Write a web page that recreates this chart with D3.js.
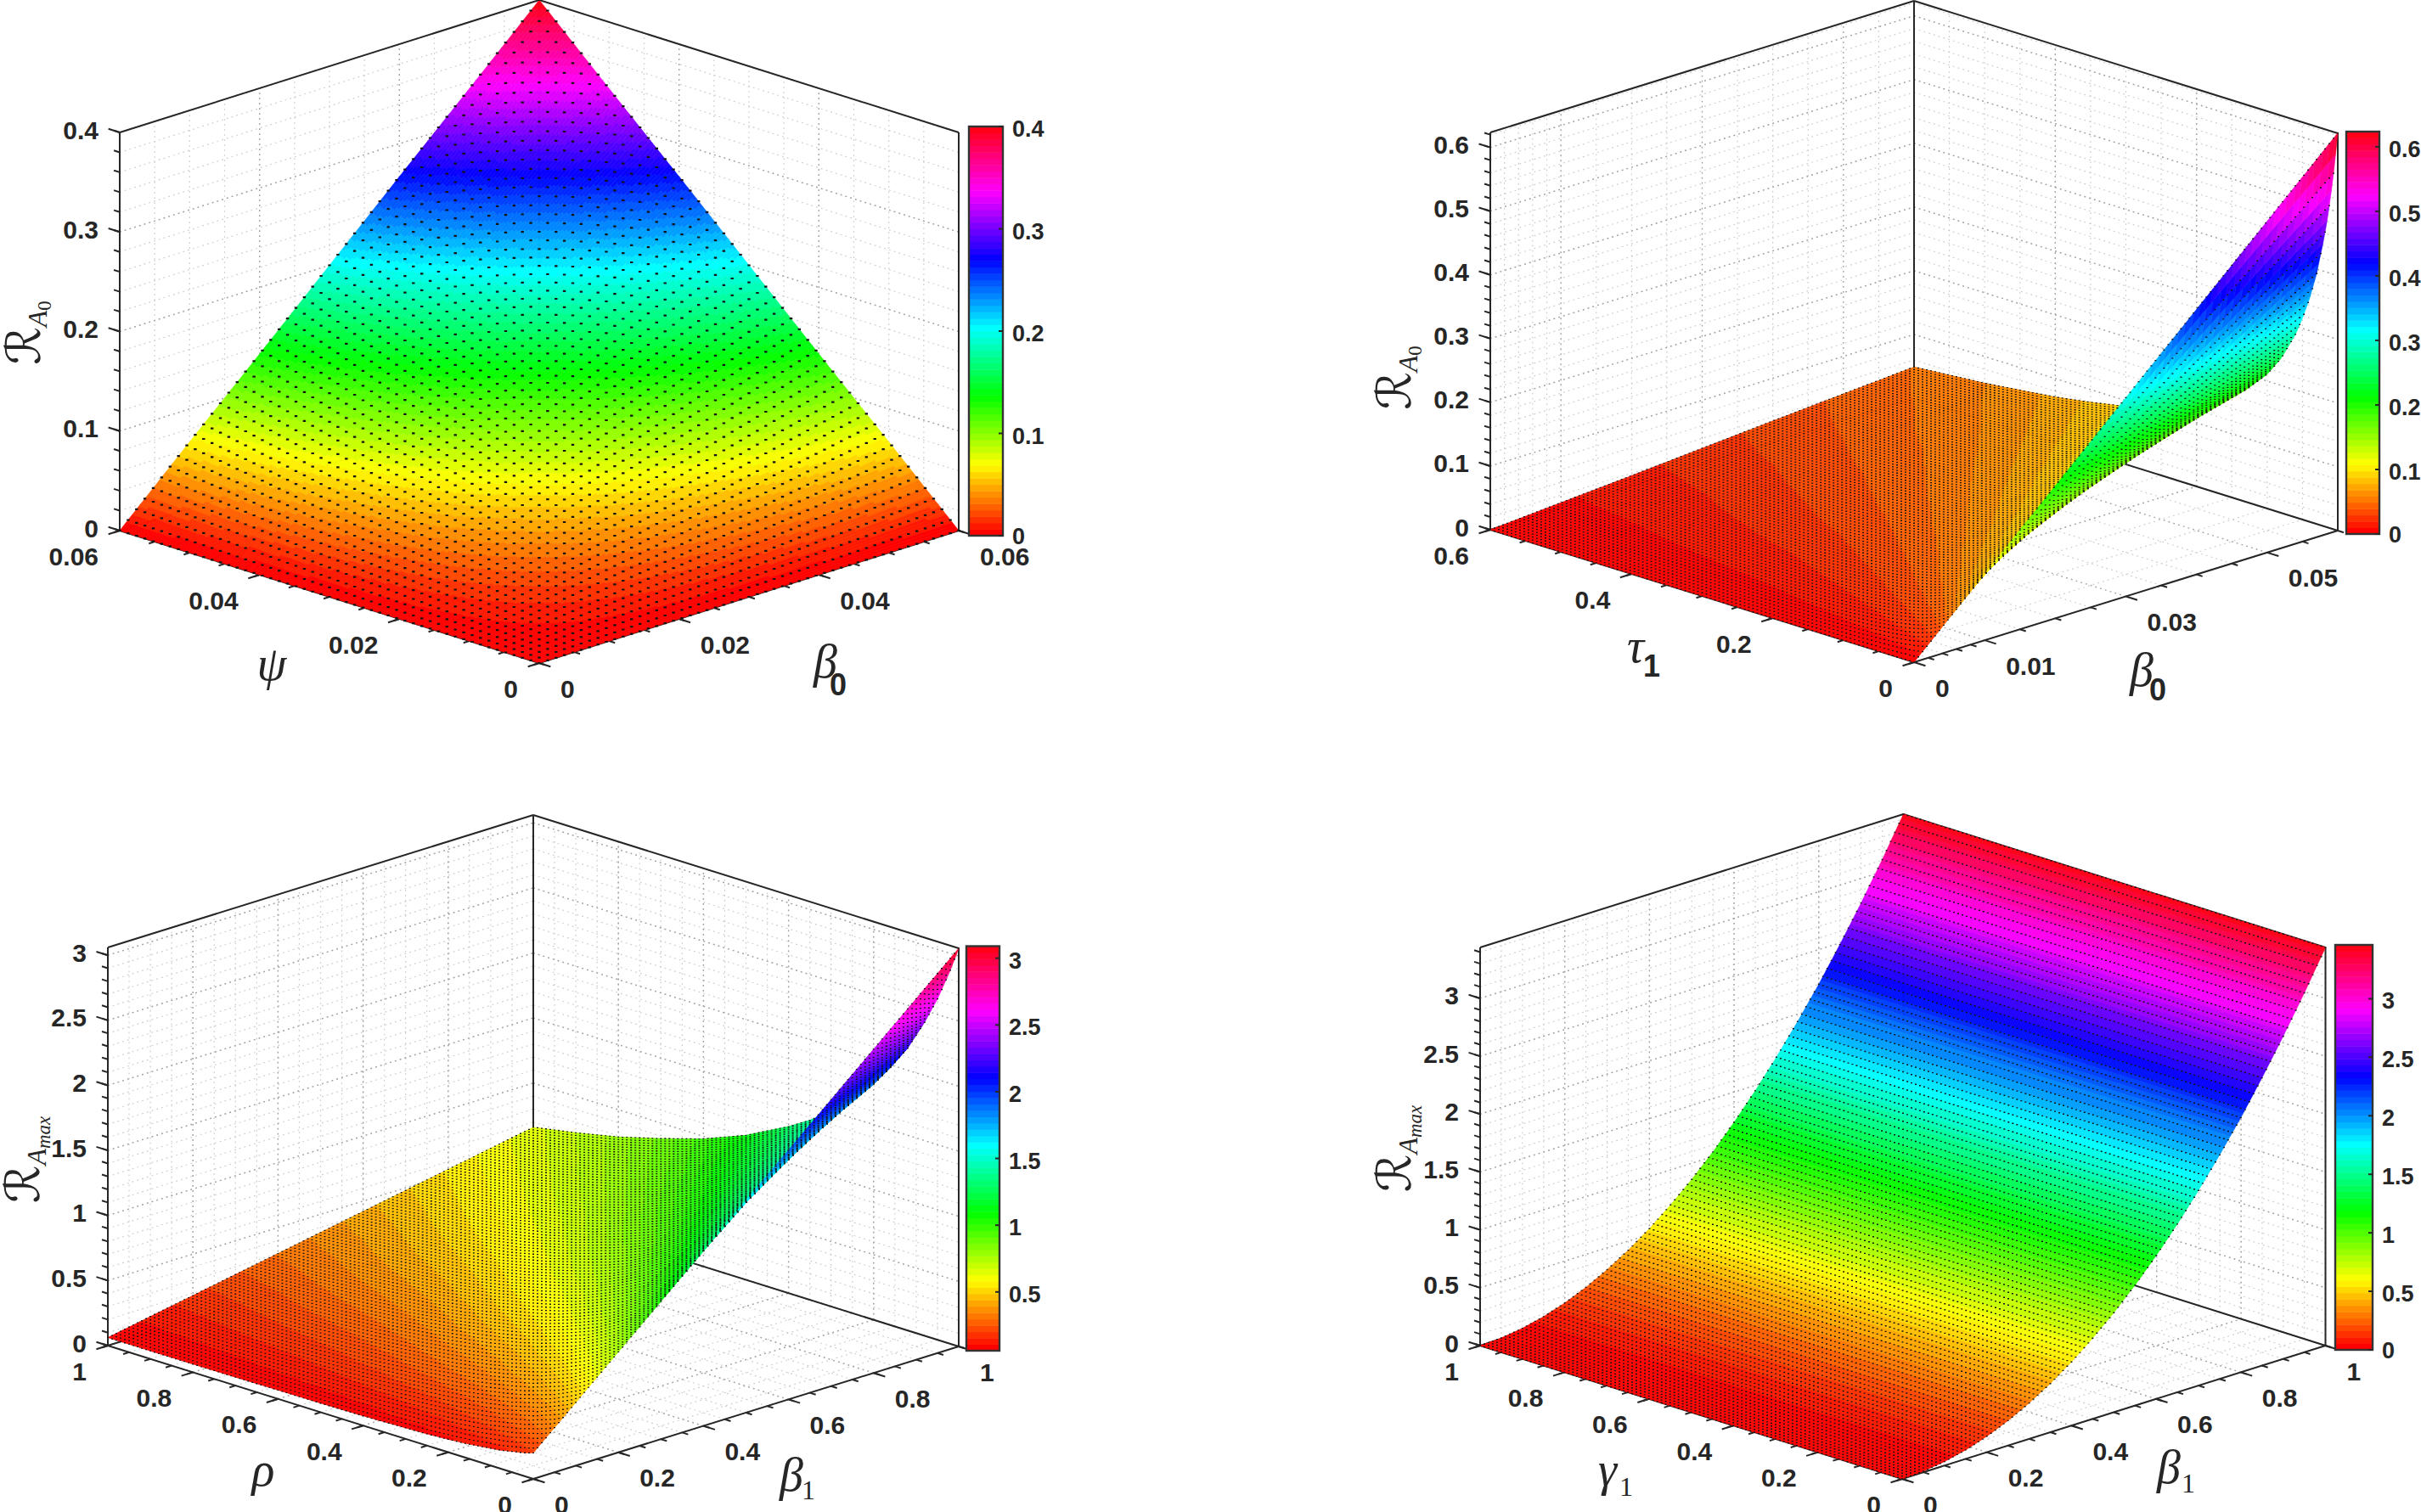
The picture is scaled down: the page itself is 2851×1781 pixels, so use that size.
<!DOCTYPE html>
<html><head><meta charset="utf-8">
<style>html,body{margin:0;padding:0;background:#fff}svg{display:block}</style>
<script src="https://cdn.jsdelivr.net/npm/d3@7/dist/d3.min.js"></script>
</head><body><svg id="c" width="2851" height="1781" xmlns="http://www.w3.org/2000/svg"></svg>
<script>
// ---------- values ----------
// Panel 1: R_A0 over psi (rows) and beta0 (columns)
const p1Psi = [0,0.01,0.02,0.03,0.04,0.05,0.06];
const p1Beta = [0,0.01,0.02,0.03,0.04,0.05,0.06];
const p1Z = [
 [0,0,0,0,0,0,0],
 [0,0.011,0.022,0.033,0.044,0.056,0.067],
 [0,0.022,0.044,0.067,0.089,0.111,0.133],
 [0,0.033,0.067,0.1,0.133,0.167,0.2],
 [0,0.044,0.089,0.133,0.178,0.222,0.267],
 [0,0.056,0.111,0.167,0.222,0.278,0.333],
 [0,0.067,0.133,0.2,0.267,0.333,0.4]];
const p1ATicks=[0,0.02,0.04,0.06], p1ALabels=["0","0.02","0.04","0.06"];
const p1BTicks=[0,0.02,0.04,0.06], p1BLabels=["0","0.02","0.04","0.06"];
const p1ZTicks=[0,0.1,0.2,0.3,0.4], p1ZLabels=["0","0.1","0.2","0.3","0.4"];
const p1CTicks=[0,0.1,0.2,0.3,0.4], p1CLabels=["0","0.1","0.2","0.3","0.4"];

// Panel 2: R_A0 over tau1 (rows) and beta0 (columns)
const p2Tau = [0,0.005,0.01,0.015,0.02,0.03,0.04,0.05,0.06,0.08,0.1,0.13,0.16,0.2,0.25,0.3,0.35,0.4,0.5,0.6];
const p2Beta = [0,0.02,0.04,0.06];
const p2Z = [
 [0,0.208,0.416,0.624],[0,0.189,0.379,0.568],[0,0.174,0.348,0.522],[0,0.161,0.321,0.482],
 [0,0.150,0.299,0.449],[0,0.131,0.262,0.393],[0,0.117,0.233,0.350],[0,0.105,0.210,0.316],
 [0,0.096,0.191,0.287],[0,0.081,0.162,0.243],[0,0.070,0.141,0.211],[0,0.059,0.117,0.176],
 [0,0.050,0.101,0.151],[0,0.042,0.085,0.127],[0,0.035,0.071,0.106],[0,0.030,0.061,0.091],
 [0,0.027,0.053,0.080],[0,0.024,0.047,0.071],[0,0.019,0.039,0.058],[0,0.016,0.033,0.049]];
const p2ATicks=[0,0.2,0.4,0.6], p2ALabels=["0","0.2","0.4","0.6"];
const p2BTicks=[0,0.01,0.03,0.05], p2BLabels=["0","0.01","0.03","0.05"];
const p2BMinor=[0.002,0.004,0.006,0.008,0.015,0.02,0.025,0.035,0.04,0.045,0.055,0.06];
const p2ZTicks=[0,0.1,0.2,0.3,0.4,0.5,0.6], p2ZLabels=["0","0.1","0.2","0.3","0.4","0.5","0.6"];
const p2CTicks=[0,0.1,0.2,0.3,0.4,0.5,0.6], p2CLabels=["0","0.1","0.2","0.3","0.4","0.5","0.6"];

// Panel 3: R_Amax over rho (rows) and beta1 (columns)
const p3Rho = [0,0.02,0.05,0.08,0.12,0.16,0.2,0.25,0.3,0.35,0.4,0.5,0.6,0.7,0.8,0.9,1];
const p3Beta = [0,0.5,1];
const p3Z = [
 [0.2,1.63,3.06],[0.18,1.52,2.87],[0.16,1.39,2.62],[0.14,1.27,2.41],[0.125,1.15,2.17],
 [0.11,1.04,1.98],[0.10,0.96,1.81],[0.09,0.87,1.64],[0.085,0.79,1.50],[0.08,0.73,1.38],
 [0.075,0.68,1.28],[0.07,0.59,1.11],[0.068,0.52,0.98],[0.065,0.47,0.88],[0.063,0.43,0.79],
 [0.062,0.39,0.72],[0.062,0.36,0.66]];
const unitTicks=[0,0.2,0.4,0.6,0.8,1], unitLabels=["0","0.2","0.4","0.6","0.8","1"];
const p3ZTicks=[0,0.5,1,1.5,2,2.5,3], p3ZLabels=["0","0.5","1","1.5","2","2.5","3"];
const p3CTicks=[0.5,1,1.5,2,2.5,3], p3CLabels=["0.5","1","1.5","2","2.5","3"];

// Panel 4: R_Amax over gamma1 (rows) and beta1 (columns)
const p4Gamma = [0,0.5,1];
const p4Beta = [0,0.05,0.1,0.15,0.2,0.25,0.3,0.35,0.4,0.45,0.5,0.55,0.6,0.65,0.7,0.75,0.8,0.85,0.9,0.95,1];
const p4Row = [0,0.0086,0.0344,0.0774,0.1376,0.215,0.31,0.421,0.55,0.697,0.86,1.04,1.238,1.453,1.686,1.935,2.2,2.486,2.787,3.105,3.44];
const p4Z = [p4Row,p4Row,p4Row];
const p4ZTicks=[0,0.5,1,1.5,2,2.5,3], p4ZLabels=["0","0.5","1","1.5","2","2.5","3"];
const p4CTicks=[0,0.5,1,1.5,2,2.5,3], p4CLabels=["0","0.5","1","1.5","2","2.5","3"];

// ---------- layout ----------
const panels=[
 {F:[635,781],L:[141,625],R:[1129,625],h:469,aMax:0.06,bMax:0.06,zMax:0.4,clim:[0,0.4],cb:[1141,149,1181,631],mesh:50,dot:[3.4,2.2],
  aVals:p1Psi,bVals:p1Beta,z:p1Z,aT:p1ATicks,aL:p1ALabels,bT:p1BTicks,bL:p1BLabels,zT:p1ZTicks,zL:p1ZLabels,cT:p1CTicks,cL:p1CLabels,
  aMinor:d3.range(0,0.0601,0.005),bMinor:d3.range(0,0.0601,0.005),zMinor:d3.range(0,0.4001,0.02),
  zlab:[47,392,"0"],aName:["ψ",320,801,""],bName:["β",972,798,"0",987,819,"bold"]},
 {F:[2254,780],L:[1755,624],R:[2753,625],h:468,aMax:0.6,bMax:0.06,zMax:0.6235,clim:[0,0.6235],cb:[2763,155,2802,629],mesh:100,dot:[2,1.3],
  aVals:p2Tau,bVals:p2Beta,z:p2Z,aT:p2ATicks,aL:p2ALabels,bT:p2BTicks,bL:p2BLabels,zT:p2ZTicks,zL:p2ZLabels,cT:p2CTicks,cL:p2CLabels,
  aMinor:d3.range(0,0.601,0.05),bMinor:p2BMinor,zMinor:d3.range(0,0.6201,0.02),
  zlab:[1661,445,"0"],aName:["τ",1926,780,"1",1945,797,"bold"],bName:["β",2522,808,"0",2541,825,"bold"]},
 {F:[628,1742],L:[127,1585],R:[1129,1586],h:469,aMax:1,bMax:1,zMax:3.06,clim:[0.06,3.09],cb:[1138,1114.5,1177,1591],mesh:100,dot:[2,1.3],
  aVals:p3Rho,bVals:p3Beta,z:p3Z,aT:unitTicks,aL:unitLabels,bT:unitTicks,bL:unitLabels,zT:p3ZTicks,zL:p3ZLabels,cT:p3CTicks,cL:p3CLabels,
  aMinor:d3.range(0,1.001,0.05),bMinor:d3.range(0,1.001,0.05),zMinor:d3.range(0,3.001,0.1),
  zlab:[46,1366,"max"],aName:["ρ",310,1750,""],bName:["β",932,1756,"1",952,1766,"serif"]},
 {F:[2240,1742],L:[1743,1585],R:[2738.5,1585],h:469,aMax:1,bMax:1,zMax:3.44,clim:[0,3.46],cb:[2750,1113,2794,1590],mesh:100,dot:[2,1.4],
  aVals:p4Gamma,bVals:p4Beta,z:p4Z,aT:unitTicks,aL:unitLabels,bT:unitTicks,bL:unitLabels,zT:p4ZTicks,zL:p4ZLabels,cT:p4CTicks,cL:p4CLabels,
  aMinor:d3.range(0,1.001,0.05),bMinor:d3.range(0,1.001,0.05),zMinor:d3.range(0,3.401,0.1),
  zlab:[1661,1353,"max"],aName:["γ",1893,1750,"1",1915,1762,"serif"],bName:["β",2554,1747,"1",2577,1758,"serif"]}
];

// MATLAB hsv(64) colormap
const hsv64=d3.range(64).map(i=>d3.hsl(i/64*360,1,0.5).formatHex());
const INK="#262626", SANS="'Liberation Sans',Arial,sans-serif", SERIF="'Liberation Serif',serif";
const svg=d3.select("#c");
const NF=200;

function drawPanel(p){
  const g=svg.append("g");
  const aS=d3.scaleLinear().domain([0,p.aMax]).range([0,1]);
  const bS=d3.scaleLinear().domain([0,p.bMax]).range([0,1]);
  const zS=d3.scaleLinear().domain([0,p.zMax]).range([0,p.h]);
  const proj=(a,b,z)=>{const u=aS(a),v=bS(b);
    return [p.F[0]+(p.R[0]-p.F[0])*v+(p.L[0]-p.F[0])*u, p.F[1]+(p.R[1]-p.F[1])*v+(p.L[1]-p.F[1])*u-zS(z)];};
  const line=(par,A,B,col,w,dash)=>{const l=par.append("line").attr("x1",A[0]).attr("y1",A[1]).attr("x2",B[0]).attr("y2",B[1])
    .attr("stroke",col).attr("stroke-width",w); if(dash) l.attr("stroke-dasharray",dash); return l;};

  // grid on walls and floor
  const grid=g.append("g");
  const gridLines=(vals,major)=>{
    const col=major?"#a2a2a2":"#cdcdcd", w=major?1.4:1.2, dash="1.8 4.2";
    vals.b.forEach(b=>{line(grid,proj(p.aMax,b,0),proj(p.aMax,b,p.zMax),col,w,dash);line(grid,proj(0,b,0),proj(p.aMax,b,0),col,w,dash);});
    vals.a.forEach(a=>{line(grid,proj(a,p.bMax,0),proj(a,p.bMax,p.zMax),col,w,dash);line(grid,proj(a,0,0),proj(a,p.bMax,0),col,w,dash);});
    vals.z.forEach(z=>{line(grid,proj(p.aMax,0,z),proj(p.aMax,p.bMax,z),col,w,dash);line(grid,proj(p.aMax,p.bMax,z),proj(0,p.bMax,z),col,w,dash);});
  };
  gridLines({a:p.aMinor,b:p.bMinor,z:p.zMinor},false);
  gridLines({a:p.aT,b:p.bT,z:p.zT},true);

  // box
  const box=g.append("g");
  const t=p.zMax;
  [[proj(p.aMax,0,t),proj(p.aMax,p.bMax,t)],[proj(p.aMax,p.bMax,t),proj(0,p.bMax,t)],
   [proj(p.aMax,0,0),proj(p.aMax,0,t)],[proj(p.aMax,p.bMax,0),proj(p.aMax,p.bMax,t)],[proj(0,p.bMax,0),proj(0,p.bMax,t)],
   [proj(p.aMax,0,0),proj(p.aMax,p.bMax,0)],[proj(p.aMax,p.bMax,0),proj(0,p.bMax,0)],
   [proj(p.aMax,0,0),proj(0,0,0)],[proj(0,0,0),proj(0,p.bMax,0)]]
   .forEach(s=>line(box,s[0],s[1],INK,2));

  // ticks
  const dirA=[(p.L[0]-p.F[0]),(p.L[1]-p.F[1])], dirB=[(p.R[0]-p.F[0]),(p.R[1]-p.F[1])];
  const tick=(P,dir,f)=>line(box,P,[P[0]+dir[0]*f,P[1]+dir[1]*f],INK,2);
  const MAJ=0.027,MIN=0.014;
  p.aMinor.forEach(a=>tick(proj(a,0,0),dirB,-MIN)); p.aT.forEach(a=>tick(proj(a,0,0),dirB,-MAJ));
  p.bMinor.forEach(b=>tick(proj(0,b,0),dirA,-MIN)); p.bT.forEach(b=>tick(proj(0,b,0),dirA,-MAJ));
  p.zMinor.forEach(z=>tick(proj(p.aMax,0,z),dirA,MIN)); p.zT.forEach(z=>tick(proj(p.aMax,0,z),dirA,MAJ));

  // surface, painted back to front
  const aIdx=d3.scaleLinear().domain(p.aVals).range(d3.range(p.aVals.length)).clamp(true);
  const bIdx=d3.scaleLinear().domain(p.bVals).range(d3.range(p.bVals.length)).clamp(true);
  const height=(a,b)=>{
    const fa=aIdx(a),fb=bIdx(b),ia=Math.min(Math.floor(fa),p.aVals.length-2),ib=Math.min(Math.floor(fb),p.bVals.length-2);
    const ta=fa-ia,tb=fb-ib,Z=p.z;
    return (1-ta)*((1-tb)*Z[ia][ib]+tb*Z[ia][ib+1])+ta*((1-tb)*Z[ia+1][ib]+tb*Z[ia+1][ib+1]);};
  const col=d3.scaleQuantize().domain(p.clim).range(hsv64);
  const MESH=p.mesh, SUB=NF/MESH, surf=g.append("g").attr("stroke-linejoin","round");
  const fmt=n=>n.toFixed(1);
  const poly=pts=>"M"+pts.map(q=>fmt(q[0])+" "+fmt(q[1])).join("L")+"Z";
  const aAt=k=>p.aMax*k/NF, bAt=j=>p.bMax*j/NF;
  const [dw,dh]=p.dot;
  const drawDots=i=>{
    const a=p.aMax*i/MESH; let d="";
    for(let j=0;j<=MESH;j++){
      const b=p.bMax*j/MESH, q=proj(a,b,height(a,b));
      d+=`M${fmt(q[0]-dw/2)} ${fmt(q[1]-dh/2)}h${dw}v${dh}h-${dw}Z`; }
    surf.append("path").attr("d",d).attr("fill","#141414");
  };
  for(let k=NF-1;k>=0;k--){
    const a1=aAt(k+1),a0=aAt(k);
    let j=NF;
    while(j>0){
      const c=col((height(a1,bAt(j))+height(a0,bAt(j))+height(a1,bAt(j-1))+height(a0,bAt(j-1)))/4);
      let e=j-1;
      while(e>0){const c2=col((height(a1,bAt(e))+height(a0,bAt(e))+height(a1,bAt(e-1))+height(a0,bAt(e-1)))/4); if(c2!==c)break; e--;}
      const top=[],bot=[];
      for(let m=j;m>=e;m--){const b=bAt(m);top.push(proj(a1,b,height(a1,b)));bot.push(proj(a0,b,height(a0,b)));}
      surf.append("path").attr("d",poly(top.concat(bot.reverse()))).attr("fill",c).attr("stroke",c).attr("stroke-width",0.6);
      j=e;
    }
    const i=(k+3)/SUB; if(Number.isInteger(i)&&i<=MESH) drawDots(i);
  }
  d3.range(0,MESH+1).filter(i=>i*SUB-3<0).reverse().forEach(drawDots);

  // tick labels
  const label=(x,y,s,anchor,size)=>g.append("text").attr("x",x).attr("y",y).attr("text-anchor",anchor)
    .attr("dominant-baseline","central").attr("font-family",SANS).attr("font-weight","bold").attr("font-size",size||30).attr("fill",INK).text(s);
  p.aT.forEach((a,i)=>{const q=proj(a,0,0);label(q[0]-25,q[1]+30,p.aL[i],"end");});
  p.bT.forEach((b,i)=>{const q=proj(0,b,0);label(q[0]+25,q[1]+30,p.bL[i],"start");});
  p.zT.forEach((z,i)=>{const q=proj(p.aMax,0,z);label(q[0]-25,q[1]-3,p.zL[i],"end");});

  // axis names
  const name=(n)=>{
    g.append("text").attr("x",n[1]).attr("y",n[2]).attr("text-anchor","middle").attr("font-family",SERIF).attr("font-style","italic")
      .attr("font-size",56).attr("fill",INK).text(n[0]);
    if(n[3]) g.append("text").attr("x",n[4]).attr("y",n[5]).attr("text-anchor","middle")
      .attr("font-family",n[6]==="bold"?SANS:SERIF).attr("font-weight",n[6]==="bold"?"bold":"normal")
      .attr("font-size",n[6]==="bold"?36:32).attr("fill",INK).text(n[3]);
  };
  name(p.aName);name(p.bName);

  // z label
  const zl=g.append("text").attr("transform",`translate(${p.zlab[0]},${p.zlab[1]}) rotate(-90)`).attr("text-anchor","middle").attr("fill",INK);
  zl.append("tspan").attr("font-family","'DejaVu Serif','DejaVu Sans',serif").attr("font-size",56).text("ℛ");
  zl.append("tspan").attr("font-family",SERIF).attr("font-style","italic").attr("font-size",32).attr("dy",8).text("A");
  zl.append("tspan").attr("font-family",SERIF).attr("font-style",p.zlab[2]==="0"?"normal":"italic").attr("font-size",23).attr("dy",5).text(p.zlab[2]);

  // colorbar
  const [x0,y0,x1,y1]=p.cb;
  const cy=d3.scaleLinear().domain(p.clim).range([y1,y0]);
  const bands=d3.range(64);
  const by=d3.scaleBand().domain(bands).range([y1,y0]);
  const cbG=g.append("g");
  cbG.selectAll("rect").data(bands).join("rect").attr("x",x0).attr("width",x1-x0)
    .attr("y",d=>by(d)).attr("height",by.bandwidth()+0.5).attr("fill",d=>hsv64[d]);
  cbG.append("rect").attr("x",x0).attr("y",y0).attr("width",x1-x0).attr("height",y1-y0).attr("fill","none").attr("stroke","#333").attr("stroke-width",2.4);
  p.cT.forEach((c,i)=>{
    cbG.append("line").attr("x1",x1).attr("x2",x1-5).attr("y1",cy(c)).attr("y2",cy(c)).attr("stroke",INK).attr("stroke-width",2);
    const yy=Math.min(y1+1,Math.max(y0+3,cy(c)+3));
    label(x1+11,yy,p.cL[i],"start",27);
  });
}
panels.forEach(drawPanel);
</script></body></html>
